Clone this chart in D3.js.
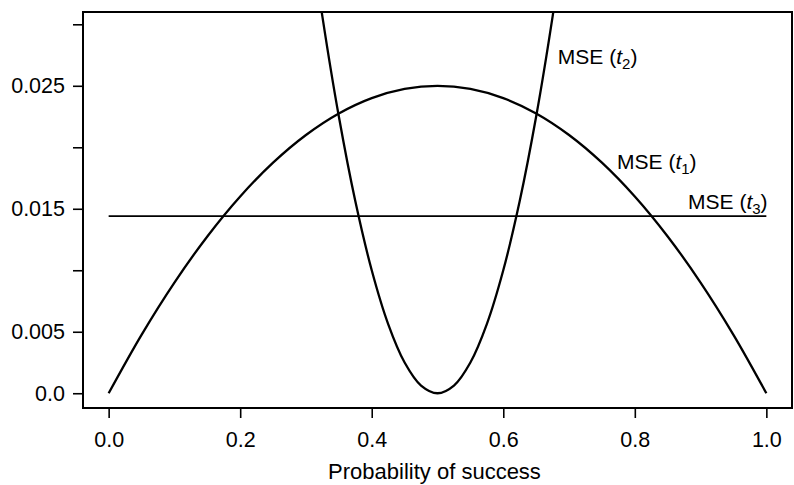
<!DOCTYPE html>
<html><head><meta charset="utf-8">
<script src="https://cdn.jsdelivr.net/npm/d3@7"></script>
<style>body{margin:0;background:#fff}svg{display:block}text{font-family:"Liberation Sans",Arial,Helvetica,sans-serif;fill:#000}</style>
</head><body><svg id="c" width="794" height="485"></svg>
<script>
// Data
const p1 = [0,0.05,0.1,0.15,0.2,0.25,0.3,0.35,0.4,0.45,0.5,0.55,0.6,0.65,0.7,0.75,0.8,0.85,0.9,0.95,1.0];
const mse1 = [0,0.00475,0.009,0.01275,0.016,0.01875,0.021,0.02275,0.024,0.02475,0.025,0.02475,0.024,0.02275,0.021,0.01875,0.016,0.01275,0.009,0.00475,0];
const p2 = [0.3,0.325,0.35,0.375,0.4,0.425,0.45,0.475,0.5,0.525,0.55,0.575,0.6,0.625,0.65,0.675,0.7];
const mse2 = [0.04,0.030625,0.0225,0.015625,0.01,0.005625,0.0025,0.000625,0,0.000625,0.0025,0.005625,0.01,0.015625,0.0225,0.030625,0.04];
const p3 = [0,1];
const mse3 = [0.0144,0.0144];
const xTicks = [0,0.2,0.4,0.6,0.8,1.0];
const xTickLabels = ["0.0","0.2","0.4","0.6","0.8","1.0"];
const yTicks = [0,0.005,0.01,0.015,0.02,0.025,0.03];
const yTickLabels = ["0.0","0.005","","0.015","","0.025",""];
const seriesLabels = [{sub:"2", x:0.683, y:0.02675},{sub:"1", x:0.773, y:0.0182},{sub:"3", x:0.881, y:0.0150}];

const svg = d3.select("#c");
const L=83,R=792,T=12,B=408;
const x = d3.scaleLinear().domain([-0.039,1.039]).range([L,R]);
const y = d3.scaleLinear().domain([-0.0012,0.031]).range([B,T]);

svg.append("defs").append("clipPath").attr("id","clip").append("rect")
  .attr("x",L).attr("y",T).attr("width",R-L).attr("height",B-T);

const xa = svg.append("g").attr("transform",`translate(0,${B})`)
  .call(d3.axisBottom(x).tickValues(xTicks).tickFormat((d,i)=>xTickLabels[i]).tickSize(10).tickPadding(14));
const ya = svg.append("g").attr("transform",`translate(${L},0)`)
  .call(d3.axisLeft(y).tickValues(yTicks).tickFormat((d,i)=>yTickLabels[i]).tickSize(10).tickPadding(8));
[xa,ya].forEach(a=>{a.select(".domain").remove();a.selectAll("line").attr("stroke","#000").attr("stroke-width",1.6);
  a.selectAll("text").attr("font-size",21.5).attr("fill","#000").style("font-family","'Liberation Sans',Arial,sans-serif");});

svg.append("rect").attr("x",L).attr("y",T).attr("width",R-L).attr("height",B-T)
  .attr("fill","none").attr("stroke","#000").attr("stroke-width",2);

const line = d3.line().x(d=>x(d[0])).y(d=>y(d[1])).curve(d3.curveCatmullRom.alpha(0.5));
const g = svg.append("g").attr("clip-path","url(#clip)");
g.append("path").attr("d",line(d3.zip(p1,mse1))).attr("fill","none").attr("stroke","#000").attr("stroke-width",2.3);
g.append("path").attr("d",line(d3.zip(p2,mse2))).attr("fill","none").attr("stroke","#000").attr("stroke-width",2.3);
g.append("path").attr("d",d3.line().x(d=>x(d[0])).y(d=>y(d[1]))(d3.zip(p3,mse3))).attr("fill","none").attr("stroke","#000").attr("stroke-width",1.8);

seriesLabels.forEach(s=>{
  const t = svg.append("text").attr("x",x(s.x)).attr("y",y(s.y)).attr("font-size",21);
  t.append("tspan").text("MSE (");
  t.append("tspan").attr("font-style","italic").text("t");
  t.append("tspan").attr("font-size",15).attr("dy",5).text(s.sub);
  t.append("tspan").attr("dy",-5).text(")");
});

svg.append("text").attr("x",(L+R)/2-3).attr("y",479).attr("text-anchor","middle").attr("font-size",22).text("Probability of success");
</script></body></html>
